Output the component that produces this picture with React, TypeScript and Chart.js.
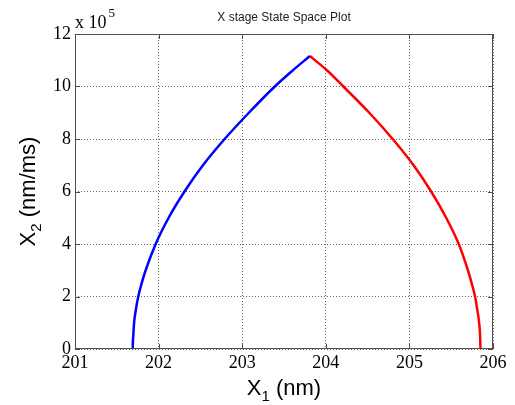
import React, { useEffect, useRef } from "react";
import { Chart, registerables } from "chart.js";

Chart.register(...registerables);

const titleText = "X stage State Space Plot";
const xTicksMin = 201;
const xTicksMax = 206;
const yTicksMin = 0;
const yTicksMax = 12;
const yExponent = 5;

// blue (accelerating) branch: X1 in nm, X2 in units of 1e5 nm/ms
const blueX1 = [201.69, 201.692, 201.697, 201.707, 201.728, 201.757, 201.797, 201.845, 201.965, 202.12, 202.31, 202.53, 202.79, 203.08, 203.39, 203.60, 203.81];
const blueX2 = [0, 0.25, 0.5, 1, 1.5, 2, 2.5, 3, 4, 5, 6, 7, 8, 9, 10, 10.6, 11.16];

// red (decelerating) branch
const redX1 = [203.81, 204.02, 204.21, 204.52, 204.80, 205.05, 205.26, 205.44, 205.59, 205.70, 205.745, 205.785, 205.812, 205.834, 205.846, 205.85];
const redX2 = [11.16, 10.6, 10, 9, 8, 7, 6, 5, 4, 3, 2.5, 2, 1.5, 1, 0.5, 0];

const toPoints = (xs: number[], ys: number[]) => xs.map((x, i) => ({ x, y: ys[i] }));

const decorPlugin = {
  id: "decor",
  afterDraw(chart: any) {
    const { ctx, chartArea } = chart;
    const { left, right, top, bottom } = chartArea;
    const xs = chart.scales.x;
    const ys = chart.scales.y;
    ctx.save();
    ctx.strokeStyle = "#4d4d4d";
    ctx.lineWidth = 1;
    ctx.strokeRect(left + 0.5, top + 0.5, right - left - 1, bottom - top - 1);
    const tl = 5;
    ctx.beginPath();
    for (let v = xTicksMin; v <= xTicksMax; v++) {
      const px = Math.round(xs.getPixelForValue(v)) + 0.5;
      ctx.moveTo(px, bottom);
      ctx.lineTo(px, bottom - tl);
      ctx.moveTo(px, top);
      ctx.lineTo(px, top + tl);
    }
    for (let v = yTicksMin; v <= yTicksMax; v += 2) {
      const py = Math.round(ys.getPixelForValue(v)) + 0.5;
      ctx.moveTo(left, py);
      ctx.lineTo(left + tl, py);
      ctx.moveTo(right, py);
      ctx.lineTo(right - tl, py);
    }
    ctx.stroke();

    ctx.fillStyle = "#222";
    ctx.font = '12px "Liberation Sans", Arial, sans-serif';
    ctx.textAlign = "center";
    ctx.textBaseline = "alphabetic";
    ctx.fillText(titleText, (left + right) / 2, 21);

    ctx.fillStyle = "#000";
    ctx.textAlign = "left";
    ctx.font = '18px "Liberation Serif", "Times New Roman", serif';
    ctx.fillText("x 10", left, 28);
    const w = ctx.measureText("x 10").width;
    ctx.font = '13px "Liberation Serif", "Times New Roman", serif';
    ctx.fillText(String(yExponent), left + w + 2, 17);

    const big = '22px "Liberation Sans", Arial, sans-serif';
    const small = '15px "Liberation Sans", Arial, sans-serif';
    const cx = (left + right) / 2;
    const rest1 = " (nm)";
    ctx.font = big;
    const wX = ctx.measureText("X").width;
    const wR = ctx.measureText(rest1).width;
    ctx.font = small;
    const wS = ctx.measureText("1").width;
    const sx = cx - (wX + wS + wR) / 2;
    const by = 395;
    ctx.font = big;
    ctx.fillText("X", sx, by);
    ctx.font = small;
    ctx.fillText("1", sx + wX, by + 6);
    ctx.font = big;
    ctx.fillText(rest1, sx + wX + wS, by);

    const cy = (top + bottom) / 2;
    ctx.translate(35, cy);
    ctx.rotate(-Math.PI / 2);
    const rest2 = " (nm/ms)";
    ctx.font = big;
    const wX2 = ctx.measureText("X").width;
    const wR2 = ctx.measureText(rest2).width;
    ctx.font = small;
    const wS2 = ctx.measureText("2").width;
    const sx2 = -(wX2 + wS2 + wR2) / 2;
    ctx.font = big;
    ctx.fillText("X", sx2, 0);
    ctx.font = small;
    ctx.fillText("2", sx2 + wX2, 6);
    ctx.font = big;
    ctx.fillText(rest2, sx2 + wX2 + wS2, 0);
    ctx.restore();
  },
};

export default function App() {
  const ref = useRef<HTMLCanvasElement | null>(null);
  useEffect(() => {
    document.body.style.margin = "0";
    const tickFont = { family: '"Liberation Serif", "Times New Roman", serif', size: 18 };
    const gridCommon = { color: "#666", lineWidth: 1, drawTicks: false };
    const chart = new Chart(ref.current as HTMLCanvasElement, {
      type: "scatter",
      data: {
        datasets: [
          {
            data: toPoints(blueX1, blueX2),
            borderColor: "#0000ff",
            backgroundColor: "#0000ff",
            borderWidth: 2.5,
            showLine: true,
            pointRadius: 0,
            cubicInterpolationMode: "monotone",
          },
          {
            data: toPoints(redX1, redX2),
            borderColor: "#ff0000",
            backgroundColor: "#ff0000",
            borderWidth: 2.5,
            showLine: true,
            pointRadius: 0,
            cubicInterpolationMode: "monotone",
          },
        ],
      },
      options: {
        responsive: false,
        animation: false,
        layout: { padding: { left: 0, top: 34, right: 22, bottom: 0 } },
        plugins: { legend: { display: false }, tooltip: { enabled: false }, title: { display: false } },
        scales: {
          x: {
            type: "linear",
            min: xTicksMin,
            max: xTicksMax,
            ticks: { stepSize: 1, color: "#000", font: tickFont, padding: 3 },
            grid: gridCommon,
            border: { display: false, dash: [1, 2] },
            afterFit: (s: any) => { s.height = 56; },
          },
          y: {
            type: "linear",
            min: yTicksMin,
            max: yTicksMax,
            ticks: { stepSize: 2, color: "#000", font: tickFont, padding: 4 },
            grid: gridCommon,
            border: { display: false, dash: [1, 2] },
            afterFit: (s: any) => { s.width = 75; },
          },
        },
      } as any,
      plugins: [decorPlugin],
    });
    return () => chart.destroy();
  }, []);
  return (
    <div style={{ position: "absolute", left: 0, top: 0, width: 515, height: 405, background: "#fff" }}>
      <canvas ref={ref} width={515} height={405} />
    </div>
  );
}
